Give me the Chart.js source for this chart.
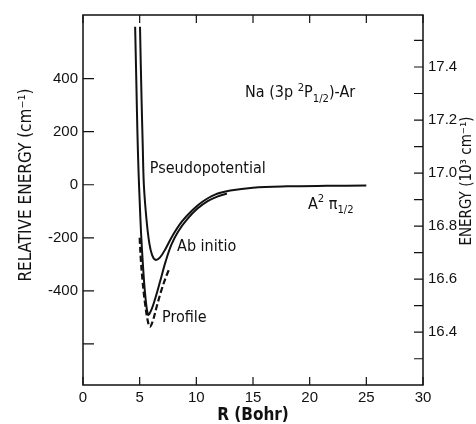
<!DOCTYPE html>
<html>
<head>
<meta charset="utf-8">
<script src="https://cdn.jsdelivr.net/npm/chart.js@4.4.0/dist/chart.umd.min.js"></script>
<style>
  html, body { margin: 0; padding: 0; background: #fff; }
  canvas { display: block; }
</style>
</head>
<body>
<canvas id="potentialChart" width="476" height="424"></canvas>
<script>
// Na(3p 2P1/2)-Ar A state potentials: R in Bohr, energy in cm^-1 relative to the asymptote
var pseudoR = [5.03, 5.1, 5.18, 5.27, 5.37, 5.6, 5.85, 6.1, 6.4, 6.8, 7.3, 7.9, 8.7, 9.6, 10.5, 11.6, 13.0, 15.0, 18.0, 21.5, 25.0];
var pseudoE = [596, 450, 300, 150, 0, -130, -220, -265, -283, -274, -240, -192, -140, -98, -65, -38, -22, -11, -6, -4, -3];

var abInitioR = [4.6, 4.7, 4.8, 4.9, 5.0, 5.12, 5.3, 5.5, 5.75, 6.05, 6.4, 6.8, 7.3, 7.8, 8.4, 9.2, 10.1, 11.0, 11.9, 12.7];
var abInitioE = [596, 400, 200, 50, -60, -180, -310, -420, -490, -470, -425, -365, -288, -226, -176, -130, -90, -62, -44, -33];

var profileR = [5.0, 5.1, 5.25, 5.45, 5.7, 5.9, 6.15, 6.5, 6.9, 7.3, 7.6];
var profileE = [-200, -280, -360, -440, -510, -536, -515, -460, -400, -350, -318];

var xTicks = [0, 5, 10, 15, 20, 25, 30];
var leftTicks = [-600, -400, -200, 0, 200, 400];
var leftLabels = ['', '-400', '-200', '0', '200', '400'];
var rightTicks = [16.3, 16.4, 16.5, 16.6, 16.7, 16.8, 16.9, 17.0, 17.1, 17.2, 17.3, 17.4, 17.5];
var rightLabels = ['', '16.4', '', '16.6', '', '16.8', '', '17.0', '', '17.2', '', '17.4', ''];

var asymptote = 16.956; // Na 3p 2P1/2 level in 10^3 cm^-1
var eMin = -755, eMax = 640;

// curve labels, anchored at (R, E) = left end of the text baseline
var curveLabels = [
  { parts: [{ t: 'Pseudopotential' }], r: 5.9, e: 45 },
  { parts: [{ t: 'Ab initio' }], r: 8.3, e: -249 },
  { parts: [{ t: 'Profile' }], r: 6.97, e: -517 },
  { parts: [{ t: 'Na (3p ' }, { t: '2', s: 1 }, { t: 'P' }, { t: '1/2', s: -1 }, { t: ')-Ar' }], r: 14.3, e: 330 },
  { parts: [{ t: 'A' }, { t: '2', s: 1 }, { t: ' \u03c0' }, { t: '1/2', s: -1 }], r: 19.85, e: -90 }
];

var ink = '#111';
var FONT = "'Liberation Sans Narrow', 'DejaVu Sans Condensed', 'Liberation Sans', sans-serif";
var DIGITS = "'Liberation Sans', Arial, sans-serif";

function pts(rs, es) {
  return rs.map(function (r, i) { return { x: r, y: es[i] }; });
}

function drawRich(ctx, parts, x, y, size) {
  parts.forEach(function (p) {
    var fs = p.s ? size * 0.7 : size;
    ctx.font = fs + 'px ' + FONT;
    var dy = p.s > 0 ? -size * 0.42 : (p.s < 0 ? size * 0.3 : 0);
    ctx.fillText(p.t, x, y + dy);
    x += ctx.measureText(p.t).width;
  });
}

function verticalTitle(ctx, text, cx, cy, size) {
  ctx.save();
  ctx.translate(cx, cy);
  ctx.rotate(-Math.PI / 2);
  ctx.textAlign = 'center';
  ctx.textBaseline = 'middle';
  ctx.font = size + 'px ' + FONT;
  ctx.fillText(text, 0, 0);
  ctx.restore();
}

var frameAndText = {
  id: 'frameAndText',
  afterDraw: function (chart) {
    var ctx = chart.ctx, a = chart.chartArea;
    var x = chart.scales.x, y = chart.scales.y, y2 = chart.scales.y2;
    ctx.save();
    ctx.strokeStyle = ink;
    ctx.lineWidth = 1.5;
    ctx.strokeRect(a.left, a.top, a.right - a.left, a.bottom - a.top);

    // tick marks point inward on all four sides
    ctx.lineWidth = 1.2;
    ctx.beginPath();
    xTicks.forEach(function (v) {
      var px = x.getPixelForValue(v);
      ctx.moveTo(px, a.bottom); ctx.lineTo(px, a.bottom - 8);
      ctx.moveTo(px, a.top); ctx.lineTo(px, a.top + 8);
    });
    leftTicks.forEach(function (v) {
      var py = y.getPixelForValue(v);
      ctx.moveTo(a.left, py); ctx.lineTo(a.left + 11, py);
    });
    rightTicks.forEach(function (v) {
      var py = y2.getPixelForValue(v);
      ctx.moveTo(a.right, py); ctx.lineTo(a.right - 9, py);
    });
    ctx.stroke();

    ctx.fillStyle = ink;
    ctx.textBaseline = 'alphabetic';
    ctx.textAlign = 'left';
    curveLabels.forEach(function (l) {
      drawRich(ctx, l.parts, x.getPixelForValue(l.r), y.getPixelForValue(l.e), 16);
    });

    // axis titles both read bottom to top, centred a little above mid-height as in the original
    verticalTitle(ctx, 'RELATIVE ENERGY (cm\u207b\u00b9)', 27, 185, 17);
    verticalTitle(ctx, 'ENERGY (10\u00b3 cm\u207b\u00b9)', 467, 181, 15);
    ctx.restore();
  }
};

var ctx = document.getElementById('potentialChart').getContext('2d');
var chart = new Chart(ctx, {
  type: 'scatter',
  data: {
    datasets: [{
      label: 'Pseudopotential',
      data: pts(pseudoR, pseudoE),
      showLine: true,
      borderColor: ink,
      borderWidth: 2,
      pointRadius: 0,
      tension: 0.35
    }, {
      label: 'Ab initio',
      data: pts(abInitioR, abInitioE),
      showLine: true,
      borderColor: ink,
      borderWidth: 2,
      pointRadius: 0,
      tension: 0.35
    }, {
      label: 'Profile',
      data: pts(profileR, profileE),
      showLine: true,
      borderColor: ink,
      borderWidth: 2.2,
      borderDash: [6, 3],
      pointRadius: 0,
      tension: 0.35
    }]
  },
  options: {
    responsive: false,
    animation: false,
    layout: { padding: { top: 15 } },
    plugins: {
      legend: { display: false },
      tooltip: { enabled: false }
    },
    scales: {
      x: {
        type: 'linear',
        position: 'bottom',
        min: 0,
        max: 30,
        afterBuildTicks: function (s) { s.ticks = xTicks.map(function (v) { return { value: v }; }); },
        afterFit: function (s) { s.height = 39; },
        grid: { display: false, drawTicks: false },
        border: { display: false },
        ticks: { color: ink, padding: 4, maxRotation: 0, font: { family: DIGITS, size: 15 } },
        title: {
          display: true,
          text: 'R (Bohr)',
          color: ink,
          padding: 0,
          font: { family: FONT, size: 17, weight: 'bold', lineHeight: 1 }
        }
      },
      y: {
        position: 'left',
        min: eMin,
        max: eMax,
        afterBuildTicks: function (s) { s.ticks = leftTicks.map(function (v) { return { value: v }; }); },
        afterFit: function (s) { s.width = 83; },
        grid: { display: false, drawTicks: false },
        border: { display: false },
        ticks: {
          color: ink,
          padding: 5,
          font: { family: DIGITS, size: 15 },
          callback: function (v, i) { return leftLabels[i]; }
        }
      },
      y2: {
        position: 'right',
        min: asymptote + eMin / 1000,
        max: asymptote + eMax / 1000,
        afterBuildTicks: function (s) { s.ticks = rightTicks.map(function (v) { return { value: v }; }); },
        afterFit: function (s) { s.width = 53; },
        grid: { display: false, drawTicks: false },
        border: { display: false },
        ticks: {
          color: ink,
          padding: 5,
          font: { family: DIGITS, size: 15 },
          callback: function (v, i) { return rightLabels[i]; }
        }
      }
    }
  },
  plugins: [frameAndText]
});
</script>
</body>
</html>
